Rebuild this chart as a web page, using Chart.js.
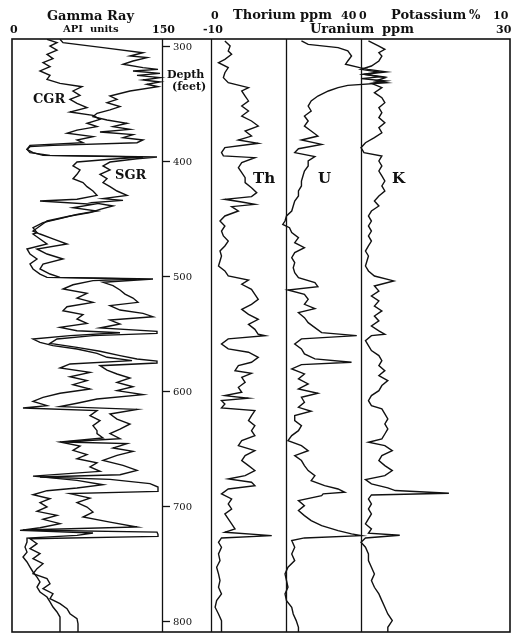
<!DOCTYPE html>
<html>
<head>
<meta charset="utf-8">
<script src="https://cdn.jsdelivr.net/npm/chart.js@4.4.0/dist/chart.umd.min.js"></script>
<style>
  html, body { margin: 0; padding: 0; background: #fff; }
  #wrap { width: 526px; height: 644px; }
</style>
</head>
<body>
<div id="wrap"><canvas id="log" width="526" height="644"></canvas></div>
<script>
// Depth ticks (feet)
const depthTicks = [300, 400, 500, 600, 700, 800];

// Spectral gamma ray, total (SGR), API units
const sgrDepth = [
  294.2, 297.1, 301.4, 305.8, 308.7, 310.1, 313, 315.9, 318.8, 320.3,
  321.7, 323.8, 325.5, 327.5, 329.6, 331.3, 333.3, 335.4, 339.1, 343.5,
  346.4, 349.3, 352.7, 355.6, 358.5, 361.4, 364.3, 367.2, 370.1, 372.5,
  374.8, 377.1, 379.7, 381.7, 384.1, 386.4, 387.5, 389.9, 392.7, 395.1,
  396.5, 398, 400.9, 404.3, 407.8, 411.6, 415.4, 418.8, 422.3, 426.1,
  429.9, 432.7, 434.2, 436.2, 439.1, 442, 444.9, 447.8, 452.2, 456.5,
  460.9,
  463.5, 467.8, 472.2, 476.5, 480.9, 485.2, 489.6, 493.9, 498.3, 501.2,
  502.6, 505.5, 508.4, 512.2, 515.7, 519.2, 522.9, 525.8, 529.6, 532.5,
  535.4, 538.3, 541.8, 545.2, 548.1, 549.9, 551.9, 554.8, 558.6, 562.1,
  565.5, 569.3, 572.2, 574, 575.7, 578, 581.8, 585.2, 588.7, 592.5,
  596.3, 599.7, 603.2, 607, 610.7, 613.6, 616, 620, 624.4, 628.7,
  633.1,
  637.1, 641.5, 644.4, 645.8, 649.6, 652.5, 656, 660.3, 664.7, 669,
  672.8, 674.8, 676.9, 680.6, 683.5, 685.6, 687.3, 689.3, 693.1, 697.1,
  700.9, 705.3, 709.6, 714, 718.3, 720.9, 722.7, 724.7, 726.4, 728.5,
  732.8, 737.2, 741.5, 745.8, 750.2, 754.5, 758.9, 763.2, 767.6, 771.9,
  776.3, 780.6, 785, 789.3, 793.7, 798, 802.4, 809.6
];
const sgrApi = [
  48, 51, 91, 131, 118, 135, 121, 111, 131, 146,
  121, 148, 125, 148, 131, 148, 135, 146, 118, 98,
  105, 95, 108, 98, 85, 81, 95, 115, 101, 118,
  88, 121, 111, 131, 125, 41, 18, 15, 18, 38,
  145, 125, 98, 91, 98, 88, 95, 91, 98, 105,
  115, 91, 111, 81, 101, 88, 78, 58, 35, 28,
  21,
  28, 41, 55, 25, 35, 51, 31, 28, 38, 48,
  141, 91, 101, 108, 113, 121, 126, 98, 108, 131,
  141, 98, 108, 88, 145, 145, 81, 45, 38, 65,
  88, 108, 125, 145, 145, 88, 95, 105, 118, 105,
  121, 105, 131, 85, 65, 48, 125, 98, 105, 118,
  108,
  98, 108, 51, 115, 101, 121, 105, 91, 111, 125,
  108, 28, 98, 138, 146, 146, 146, 58, 78, 65,
  75, 81, 71, 98, 125, 11, 145, 146, 146, 18,
  25, 18, 28, 21, 31, 25, 21, 35, 38, 31,
  41, 38, 48, 55, 58, 65, 66, 66
];

// Computed gamma ray (CGR = Th + K), API units
const cgrDepth = [
  294.2, 297.1, 300, 303.5, 307.2, 311, 314.5, 318, 321.7, 325.5,
  329, 332.5, 335.4, 339.1, 342.9, 346.4, 349.9, 353.6, 357.4, 360.3,
  363.8, 367.2, 370.1, 373.1, 375.9, 378.8, 381.7, 384.1, 386.4, 389.9,
  392.7, 395.1, 396.5, 398.5, 400.9, 404.3, 407.8, 411.6, 415.4, 418.8,
  422.3, 426.1, 429.9, 433.3, 434.8, 437.7, 440.6, 443.5, 446.4, 450.1,
  453.6, 458, 462.3,
  463.5, 467.8, 472.2, 476.5, 480.9, 485.2, 489.6, 493.9, 498.3, 501.2,
  502.6, 504, 507.6, 511.3, 515.1, 519.2, 522.9, 526.7, 530.2, 533.6,
  537.4, 541.2, 544.7, 547.6, 549.3, 551.9, 554.8, 557.7, 560.6, 563.5,
  567.3, 570.7, 573.6, 576.5, 580, 583.8, 587.6, 591, 594.5, 598.3,
  602, 605.5, 609, 612.8, 614.8, 617.1, 621.5, 625.8, 630.2, 634.5,
  637.1, 640.9, 644.4, 647.9, 651.6, 655.4, 658.9, 662.4, 666.1, 669.9,
  674, 677.7, 681.5, 684.4, 686.7, 690.2, 693.7, 697.1, 700.9, 704.7,
  708.2, 711.6, 715.4, 718.9, 721.2, 723.5, 725.6, 727.9, 731.4, 735.7,
  740.1, 744.4, 748.7, 753.1, 757.4, 761.8, 766.1, 770.5, 774.8, 779.2,
  783.5, 787.9, 792.2, 796.6, 802.4, 809.6
];
const cgrApi = [
  35, 45, 38, 45, 35, 41, 31, 38, 28, 38,
  35, 48, 70, 61, 68, 58, 65, 75, 58, 81,
  88, 75, 85, 65, 55, 81, 65, 71, 18, 15,
  21, 31, 131, 98, 65, 61, 68, 65, 61, 71,
  75, 81, 85, 65, 28, 81, 61, 85, 65, 48,
  31, 21, 25,
  21, 28, 35, 15, 18, 25, 18, 21, 28, 35,
  125, 81, 61, 51, 75, 65, 81, 55, 51, 71,
  65, 75, 48, 65, 108, 58, 21, 28, 41, 65,
  85, 95, 120, 58, 48, 78, 58, 75, 61, 78,
  48, 31, 21, 35, 11, 85, 78, 88, 81, 85,
  85, 91, 48, 68, 61, 75, 65, 85, 78, 88,
  21, 65, 91, 65, 35, 21, 38, 28, 35, 25,
  45, 31, 48, 28, 8, 81, 65, 15, 15, 13,
  15, 11, 15, 18, 21, 25, 28, 25, 28, 35,
  38, 41, 45, 48, 48, 48
];

// Thorium, ppm
const thDepth = [
  295.6, 300, 304.3, 307.2, 311.6, 314.5, 318.8, 323.2, 327.5, 331.9,
  336.2, 339.1, 343.5, 347.8, 352.2, 356.5, 360.9, 365.2, 369.6, 373.9,
  378.3, 381.7, 384.6, 388.4, 392.7, 395.6, 397.1, 401.4, 405.8, 410.1,
  414.5, 418.8, 423.2, 427.5, 431, 433.3, 435.6, 437.7, 439.7, 443.5,
  447.8, 452.2, 456.5, 460.9, 465.2, 469.6, 473.9, 478.3, 482.6, 487,
  491.3, 495.6, 500, 503.5, 507.2, 511.6, 515.9, 520.3, 524.6, 529,
  533.3, 537.7, 542, 546.4, 550.7,
  551.9, 554.7, 559.1, 563.4, 566.3, 570.7, 575, 577.9, 582.3, 584.6,
  588.1, 592.4, 596.8, 601.1, 604, 606.3, 608.4, 611.3, 614.7, 617.1,
  621.4, 625.8, 630.1, 634.5, 638.8, 643.2, 647.5, 651.9, 656.2, 660.5,
  664.9, 669.2, 673.6, 676.5, 679.4, 682.3, 685.2, 689.5, 693.9, 698.2,
  702.6, 706.9, 711.3, 715.6, 720, 722.9, 725.8, 727.8, 731.6, 735.9,
  741.7, 747.5, 753.3, 759.1, 764.9, 770.7, 776.5, 782.3, 788.1, 793.9,
  799.7, 805.5, 811.3
];
const thPpm = [
  3.7, 5.1, 4.6, 5.5, 3.7, 2.0, 4.6, 3.7, 3.3, 4.6,
  10, 8.2, 9.1, 10, 8.2, 10, 8.2, 10.8, 12.6, 9.1,
  10.8, 7.3, 12.6, 3.7, 2.8, 3.3, 11.7, 8.2, 7.3, 8.2,
  9.1, 9.1, 10.8, 12.2, 10.8, 3.7, 8.2, 11.7, 5.5, 7.3,
  3.7, 2.4, 3.7, 2.8, 3.3, 4.6, 3.7, 2.4, 2.8, 2.4,
  2.0, 3.7, 4.6, 10, 8.2, 10.8, 11.7, 12.6, 10.8, 8.2,
  10, 12.6, 10, 11.7, 12.6,
  14.4, 4.6, 2.8, 4.6, 10, 12.6, 10.8, 7.3, 6.4, 10.8,
  8.2, 9.1, 7.3, 8.2, 3.7, 10, 2.8, 3.7, 2.8, 11.7,
  10.8, 10, 11.7, 10.8, 11.7, 8.2, 7.3, 11.7, 9.1, 8.2,
  10, 11.7, 9.1, 4.6, 10.8, 11.7, 4.6, 2.8, 5.5, 4.6,
  5.5, 3.7, 4.6, 5.5, 6.4, 3.7, 16.2, 2.8, 2.0, 2.8,
  2.0, 2.4, 1.5, 2.0, 2.4, 2.0, 2.8, 1.5, 1.1, 2.0,
  2.8, 2.8, 2.8
];

// Uranium, ppm
const uDepth = [
  295.6, 298.6, 301.4, 304.3, 308.7, 313, 315.9, 318.8, 320.3, 322.6,
  324.6, 327.5, 330.4, 331.9, 334.2, 336.2, 339.1, 343.5, 347.8, 352.2,
  356.5, 360.9, 365.2, 369.6, 373.9, 378.3, 381.7, 385.5, 389.3, 392.7,
  396.2, 400, 404.3, 408.7, 413, 417.4, 421.7, 426.1, 430.4, 434.8,
  439.1, 443.5, 447.8, 452.2, 455.1, 458, 462.3, 466.7, 471, 475.4,
  479.7, 484.1, 488.4, 492.8, 497.1, 501.4, 505.8, 509.3, 512.2, 515.9,
  520.3, 524.6, 528.4, 531.9, 536.2, 540.6, 544.9, 549.3,
  551.9, 554.7, 559.1, 563.4, 567.8, 572.1, 575, 577.1, 580.8, 585.2,
  589.5, 593.9, 598.2, 602, 605.5, 609.8, 614.2, 617.6, 621.4, 625.8,
  630.1, 634.5, 638.8, 643.2, 647.5, 651.9, 656.2, 660.5, 664.9, 669.2,
  673.6, 677.9, 682.3, 685.2, 688.1, 689.5, 691, 695.3, 699.7, 704,
  708.4, 712.7, 717.1, 721.4, 724.3, 725.8, 727.8, 730.1, 735.9, 741.7,
  747.5, 753.3, 759.1, 764.9, 770.7, 776.5, 782.3, 788.1, 793.9, 799.7,
  805.5, 811.3
];
const uPpm = [
  2.1, 3.0, 7.0, 8.3, 8.8, 8.3, 8.0, 9.9, 11, 13.5,
  10.5, 13.3, 12, 13.5, 8.3, 7.0, 5.7, 4.3, 3.4, 3.0,
  3.4, 2.5, 3.0, 2.5, 3.4, 4.3, 2.1, 4.8, 1.7, 1.2,
  3.9, 3.0, 3.0, 2.5, 2.3, 2.1, 2.1, 1.7, 1.7, 1.2,
  1.0, 0.8, 0.1, -0.1, -0.4, 0.5, 0.8, 1.7, 1.2, 2.5,
  1.2, 0.8, 1.2, 1.0, 1.2, 1.7, 3.9, 4.3, 0.3, 2.5,
  3.0, 2.5, 3.9, 1.7, 2.5, 3.0, 3.9, 4.8,
  9.5, 2.1, 1.2, 2.1, 2.5, 3.9, 8.8, 2.1, 0.8, 2.5,
  1.7, 3.0, 1.7, 4.3, 2.1, 2.5, 1.7, 3.4, 1.2, 1.2,
  2.1, 1.7, 0.8, 0.3, 2.1, 3.0, 1.2, 2.1, 2.5, 3.0,
  3.9, 3.4, 5.2, 7.0, 7.9, 5.0, 4.8, 1.7, 2.5, 1.7,
  2.5, 3.4, 4.8, 7.0, 8.8, 10.1, 2.5, 0.8, 1.2, 0.8,
  1.2, 0.3, -0.1, 0.1, 0.3, -0.1, 0.1, 0.8, 1.0, 1.4,
  1.7, 1.7
];

// Potassium, %
const kDepth = [
  295.6, 300, 302.9, 305.8, 308.7, 313, 317.4, 320.3, 322.6, 324.6,
  326.7, 328.4, 330.4, 332.5, 336.2, 340.6, 344.9, 349.3, 353.6, 358,
  362.3, 366.7, 371, 375.4, 379.7, 384.1, 388.4, 392.7, 395.6, 400,
  404.3, 408.7, 413, 417.4, 421.7, 426.1, 430.4, 434.8, 439.1, 443.5,
  447.8, 452.2, 456.5, 460.9, 465.2, 469.6, 473.9, 478.3, 482.6, 487,
  491.3, 495.6, 500, 504.3, 508.7, 513.1, 517.4, 521.7, 526.1, 530.4,
  534.8, 539.1, 543.5, 547.8, 550.7,
  551.9, 556.2, 560.5, 564.9, 569.2, 573.6, 577.9, 582.3, 586.6, 591,
  595.3, 599.7, 604, 608.4, 612.7, 615.6, 620, 624.3, 628.7, 633,
  637.4, 641.7, 644.6, 647.5, 651.9, 656.2, 660.5, 664.9, 669.2, 673.6,
  677.1, 680.8, 684.3, 686.6, 689, 690.4, 693.9, 698.2, 702.6, 706.9,
  711.3, 715.6, 720, 723.7, 725.5, 727.8, 731.6, 735.9, 741.7, 747.5,
  753.3, 759.1, 764.9, 770.7, 776.5, 782.3, 788.1, 793.9, 799.7, 805.5,
  811.3
];
const kPct = [
  0.5, 1.2, 1.6, 1.2, 1.4, 1.2, 0.7, 0.0, 1.2, 0.2,
  1.4, 0.0, 1.7, 0.7, 1.4, 0.9, 1.4, 1.6, 1.2, 1.4,
  1.2, 1.6, 1.2, 1.4, 0.9, 0.3, 0.0, 0.2, 1.4, 1.2,
  1.4, 1.2, 1.4, 1.6, 1.4, 1.6, 1.2, 0.9, 1.2, 0.7,
  0.5, 0.7, 0.5, 0.7, 0.5, 0.7, 0.5, 0.3, 0.5, 0.4,
  0.3, 0.5, 0.9, 2.2, 0.9, 1.2, 0.7, 1.2, 0.9, 1.4,
  0.9, 1.2, 0.7, 1.2, 1.6,
  0.7, 0.3, 0.5, 0.7, 1.2, 1.4, 1.2, 1.6, 1.2, 1.8,
  1.4, 1.2, 0.7, 0.5, 0.7, 1.4, 1.6, 1.8, 1.6, 1.8,
  1.6, 1.4, 0.5, 1.6, 2.1, 1.4, 1.2, 1.6, 2.1, 1.6,
  0.3, 0.7, 1.8, 2.3, 5.9, 0.7, 0.5, 0.7, 0.5, 0.7,
  0.5, 0.3, 0.7, 0.5, 2.6, 0.3, 0.0, 0.3, 0.5, 0.5,
  0.7, 0.9, 0.7, 0.9, 1.2, 1.4, 1.6, 1.8, 2.1, 1.8,
  1.8
];

// Plot frame in page pixels; each track's scale is stretched over the full width
const AREA = { left: 12, right: 510, top: 39, bottom: 632 };
const INK = "#111";
const SERIF = "'DejaVu Serif', 'Liberation Serif', serif";

// Scale limits so value v0 lands at pixel p0 and v1 at p1
function trackScale(v0, p0, v1, p1) {
  const k = (v1 - v0) / (p1 - p0);
  return {
    type: "linear",
    display: false,
    min: v0 + (AREA.left - p0) * k,
    max: v0 + (AREA.right - p0) * k,
  };
}

function curve(depths, values, axis) {
  return {
    data: depths.map((d, i) => ({ x: values[i], y: d })),
    xAxisID: axis,
    yAxisID: "y",
    showLine: true,
    borderColor: INK,
    borderWidth: 1.4,
    pointRadius: 0,
    tension: 0,
  };
}

const frame = {
  id: "frame",
  afterDatasetsDraw(chart) {
    const { ctx, scales } = chart;
    const y = scales.y;
    const top = y.getPixelForValue(y.min);
    const bottom = y.getPixelForValue(y.max);
    const grEdge = scales.xGR.getPixelForValue(150);

    ctx.save();
    ctx.strokeStyle = INK;
    ctx.lineWidth = 1.6;
    ctx.strokeRect(AREA.left, top, AREA.right - AREA.left, bottom - top);

    // Track dividers: GR 150, Th 0, U 0, K 0
    ctx.lineWidth = 1.3;
    [
      grEdge,
      scales.xTh.getPixelForValue(0),
      scales.xU.getPixelForValue(0),
      scales.xK.getPixelForValue(0),
    ].forEach((px) => {
      ctx.beginPath();
      ctx.moveTo(Math.round(px) + 0.5, top);
      ctx.lineTo(Math.round(px) + 0.5, bottom);
      ctx.stroke();
    });

    // Depth ticks and labels
    ctx.fillStyle = INK;
    ctx.font = `10px ${SERIF}`;
    ctx.textBaseline = "middle";
    depthTicks.forEach((d) => {
      const py = Math.round(y.getPixelForValue(d)) + 0.5;
      ctx.beginPath();
      ctx.moveTo(grEdge, py);
      ctx.lineTo(grEdge + 8, py);
      ctx.stroke();
      ctx.fillText(String(d), grEdge + 11, py + 1);
    });

    ctx.textBaseline = "alphabetic";
    const put = (text, x, yy, size, weight = "bold") => {
      ctx.font = `${weight} ${size}px ${SERIF}`;
      ctx.fillText(text, x, yy);
    };

    // Headers
    put("Gamma", 47, 20, 13);
    put("Ray", 107, 20, 13);
    put("0", 10, 33, 11);
    put("API", 63, 32, 10);
    put("units", 90, 32, 10);
    put("150", 152, 33, 11);

    put("0", 211, 19, 11);
    put("Thorium", 233, 19, 13);
    put("ppm", 300, 19, 13);
    put("40", 341, 19, 11);
    put("0", 359, 19, 11);
    put("Potassium", 391, 19, 13);
    put("%", 469, 19, 12);
    put("10", 493, 19, 11);

    put("-10", 203, 33, 11);
    put("Uranium", 310, 33, 13);
    put("ppm", 382, 33, 13);
    put("30", 496, 33, 11);

    put("Depth", 167, 78, 11);
    put("(feet)", 172, 90, 11);

    // Curve names
    put("CGR", 33, 103, 13);
    put("SGR", 115, 179, 13);
    put("Th", 253, 183, 15);
    put("U", 318, 183, 15);
    put("K", 392, 183, 15);
    ctx.restore();
  },
};

new Chart(document.getElementById("log"), {
  type: "scatter",
  data: {
    datasets: [
      curve(cgrDepth, cgrApi, "xGR"),
      curve(sgrDepth, sgrApi, "xGR"),
      curve(thDepth, thPpm, "xTh"),
      curve(uDepth, uPpm, "xU"),
      curve(kDepth, kPct, "xK"),
    ],
  },
  options: {
    responsive: false,
    animation: false,
    layout: {
      padding: { left: AREA.left, right: 526 - AREA.right, top: AREA.top, bottom: 644 - AREA.bottom },
    },
    plugins: { legend: { display: false }, tooltip: { enabled: false } },
    scales: {
      xGR: trackScale(0, 12, 150, 162),
      xTh: trackScale(0, 211, 40, 361),
      xU: trackScale(-10, 211, 30, 510),
      xK: trackScale(0, 361, 10, 510),
      y: { type: "linear", display: false, reverse: true, min: 293.9, max: 809.6 },
    },
  },
  plugins: [frame],
});
</script>
</body>
</html>
